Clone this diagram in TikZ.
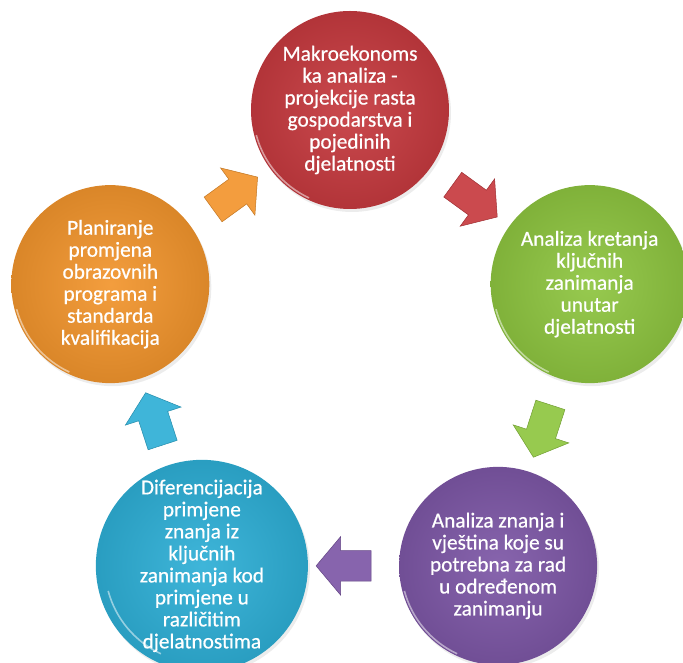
\documentclass[tikz,border=0pt]{standalone}
\usepackage{fontspec}
\setmainfont{Carlito}[FakeBold=0.6]
\usetikzlibrary{shapes.arrows,shadows,calc}

\definecolor{crvena}{HTML}{C63A3F}
\definecolor{zelena}{HTML}{8EC540}
\definecolor{ljubicasta}{HTML}{7D57A6}
\definecolor{plava}{HTML}{2EAFD6}
\definecolor{narancasta}{HTML}{F2952D}

\tikzset{
  krug/.style={circle, minimum size=198pt, inner sep=0pt, align=center, text=white,
    font=\fontsize{21.3}{22}\selectfont, shade, inner color=#1!92!white, outer color=#1!90!black,
    drop shadow={opacity=.15, shadow xshift=2pt, shadow yshift=-3pt}},
  strelica/.style={single arrow, minimum height=55pt, inner xsep=0pt, inner ysep=15pt,
    single arrow head extend=14pt, single arrow tip angle=100,
    fill=#1!92!white, draw=#1!80!black, line width=.5pt},
  rub/.style={white, opacity=.5, line width=1.6pt}
}

\begin{document}
\begin{tikzpicture}[x=1pt,y=1pt]
  \useasboundingbox (-350,-301) rectangle (333,362);
  \node[krug=crvena] (a) at (90:252) {Makroekonoms\\ka analiza -\\projekcije rasta\\gospodarstva i\\pojedinih\\djelatnosti};
  \node[krug=zelena] (b) at (18:252) {Analiza kretanja\\ključnih\\zanimanja\\unutar\\djelatnosti};
  \node[krug=ljubicasta] (c) at (-54:252) {Analiza znanja i\\vještina koje su\\potrebna za rad\\u određenom\\zanimanju};
  \node[krug=plava] (d) at (-126:252) {Diferencijacija\\primjene\\znanja iz\\ključnih\\zanimanja kod\\primjene u\\različitim\\djelatnostima};
  \node[krug=narancasta] (e) at (162:252) {Planiranje\\promjena\\obrazovnih\\programa i\\standarda\\kvalifikacija};
  % odsjaj na rubu
  \draw[rub] ([shift={(195:97)}]a.center) arc[start angle=195, end angle=245, radius=97];
  \draw[rub] ([shift={(195:97)}]b.center) arc[start angle=195, end angle=245, radius=97];
  \draw[rub] ([shift={(195:97)}]c.center) arc[start angle=195, end angle=245, radius=97];
  \draw[rub] ([shift={(195:97)}]d.center) arc[start angle=195, end angle=245, radius=97];
  \draw[rub] ([shift={(195:97)}]e.center) arc[start angle=195, end angle=245, radius=97];
  % strelice
  \node[strelica=crvena, rotate=-36] (ab) at ($(a)!.5!(b)$) {};
  \node[strelica=zelena, rotate=-108] (bc) at ($(b)!.5!(c)$) {};
  \node[strelica=ljubicasta, rotate=180] (cd) at ($(c)!.5!(d)$) {};
  \node[strelica=plava, rotate=108] (de) at ($(d)!.5!(e)$) {};
  \node[strelica=narancasta, rotate=36] (ea) at ($(e)!.5!(a)$) {};
\end{tikzpicture}
\end{document}
